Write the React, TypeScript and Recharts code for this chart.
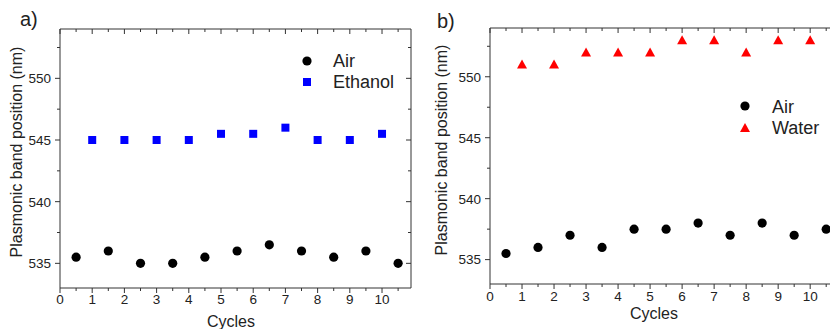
import React from 'react';
import { ScatterChart, Scatter, XAxis, YAxis, Legend } from 'recharts';

// ---------- data ----------
const airCycles = [0.5, 1.5, 2.5, 3.5, 4.5, 5.5, 6.5, 7.5, 8.5, 9.5, 10.5];
const liquidCycles = [1, 2, 3, 4, 5, 6, 7, 8, 9, 10];
const airA = [535.5, 536, 535, 535, 535.5, 536, 536.5, 536, 535.5, 536, 535];
const ethanolA = [545, 545, 545, 545, 545.5, 545.5, 546, 545, 545, 545.5];
const airB = [535.5, 536, 537, 536, 537.5, 537.5, 538, 537, 538, 537, 537.5];
const waterB = [551, 551, 552, 552, 552, 553, 553, 552, 553, 553];
const xTicks = [0, 0.5, 1, 1.5, 2, 2.5, 3, 3.5, 4, 4.5, 5, 5.5, 6, 6.5, 7, 7.5, 8, 8.5, 9, 9.5, 10, 10.5];
const yTicks = [535, 537.5, 540, 542.5, 545, 547.5, 550, 552.5];
const xDomain: [number, number] = [0, 10.9];
const yDomain: [number, number] = [533, 554];
const yTitle = 'Plasmonic band position (nm)';
const xTitle = 'Cycles';

const FONT = '"Liberation Sans", Arial, Helvetica, sans-serif';
const AX = '#333';
const TXT = '#222';

const toPoints = (xs: number[], ys: number[]) => ys.map((y, i) => ({ x: xs[i], y }));

const isMajorX = (v: number) => Number.isInteger(v);
const isMajorY = (v: number) => v % 5 === 0;

const makeBottomTick = (labelDy: number) => (p: any) => {
  const v = p.payload.value;
  const major = isMajorX(v);
  return (
    <g>
      <line x1={p.x} x2={p.x} y1={p.y} y2={p.y + (major ? 5 : 3)} stroke={AX} strokeWidth={1} />
      {major && (
        <text x={p.x} y={p.y + labelDy} textAnchor="middle" fontSize={13.5} fill={TXT} fontFamily={FONT}>
          {v}
        </text>
      )}
    </g>
  );
};

const TopTick = (p: any) => {
  const v = p.payload.value;
  const major = isMajorX(v);
  return <line x1={p.x} x2={p.x} y1={p.y} y2={p.y + (major ? 5 : 3)} stroke={AX} strokeWidth={1} />;
};

const LeftTick = (p: any) => {
  const v = p.payload.value;
  const major = isMajorY(v);
  return (
    <g>
      <line x1={p.x} x2={p.x - (major ? 5 : 3)} y1={p.y} y2={p.y} stroke={AX} strokeWidth={1} />
      {major && (
        <text x={p.x - 9} y={p.y} dy="0.36em" textAnchor="end" fontSize={13.5} fill={TXT} fontFamily={FONT}>
          {v}
        </text>
      )}
    </g>
  );
};

const RightTick = (p: any) => {
  const v = p.payload.value;
  const major = isMajorY(v);
  return <line x1={p.x} x2={p.x - (major ? 5 : 3)} y1={p.y} y2={p.y} stroke={AX} strokeWidth={1} />;
};

const circleShape = (p: any) => <circle cx={p.cx} cy={p.cy} r={4.6} fill="#000" />;
const squareShape = (p: any) => <rect x={p.cx - 4} y={p.cy - 4} width={8} height={8} fill="#0000ff" />;
const triangleShape = (p: any) => (
  <polygon points={`${p.cx},${p.cy - 5} ${p.cx - 5},${p.cy + 4} ${p.cx + 5},${p.cy + 4}`} fill="#ff0000" />
);

const yLabel = (dx: number, dy: number) => (props: any) => {
  const vb = props.viewBox;
  const x = vb.x + dx;
  const y = vb.y + dy;
  return (
    <text x={x} y={y} transform={`rotate(-90 ${x} ${y})`} textAnchor="middle" fontSize={16} fill={TXT} fontFamily={FONT}>
      {yTitle}
    </text>
  );
};

const xLabel = (dx: number, dy: number) => (props: any) => {
  const vb = props.viewBox;
  return (
    <text x={vb.x + dx} y={vb.y + dy} textAnchor="middle" fontSize={16} fill={TXT} fontFamily={FONT}>
      {xTitle}
    </text>
  );
};

const legendA = () => (
  <svg width={130} height={50}>
    <circle cx={12} cy={13} r={4.6} fill="#000" />
    <text x={38} y={19} fontSize={18} fill={TXT} fontFamily={FONT}>Air</text>
    <rect x={8} y={30} width={8} height={8} fill="#0000ff" />
    <text x={38} y={40} fontSize={18} fill={TXT} fontFamily={FONT}>Ethanol</text>
  </svg>
);

const legendB = () => (
  <svg width={110} height={50}>
    <circle cx={12} cy={12} r={4.6} fill="#000" />
    <text x={39} y={19} fontSize={18} fill={TXT} fontFamily={FONT}>Air</text>
    <polygon points="12,29 7,38 17,38" fill="#ff0000" />
    <text x={39} y={40} fontSize={18} fill={TXT} fontFamily={FONT}>Water</text>
  </svg>
);

function Frame(props: {
  width: number;
  margin: any;
  yAxisWidth: number;
  xAxisHeight: number;
  xTickDy: number;
  yLab: [number, number];
  xLab: [number, number];
  legend: () => React.ReactElement;
  legendPos: { left: number; top: number; width: number; height: number };
  children: React.ReactNode;
}) {
  return (
    <ScatterChart width={props.width} height={329} margin={props.margin}>
      <XAxis
        type="number"
        dataKey="x"
        domain={xDomain}
        allowDataOverflow
        ticks={xTicks}
        interval={0}
        tickSize={0}
        tickMargin={0}
        tickLine={false}
        axisLine={{ stroke: AX, strokeWidth: 1 }}
        height={props.xAxisHeight}
        tick={makeBottomTick(props.xTickDy)}
        label={xLabel(props.xLab[0], props.xLab[1])}
      />
      <XAxis
        xAxisId="top"
        orientation="top"
        type="number"
        dataKey="x"
        domain={xDomain}
        allowDataOverflow
        ticks={xTicks}
        interval={0}
        tickSize={0}
        tickMargin={0}
        tickLine={false}
        axisLine={{ stroke: AX, strokeWidth: 1 }}
        height={1}
        tick={TopTick}
      />
      <YAxis
        type="number"
        dataKey="y"
        domain={yDomain}
        allowDataOverflow
        ticks={yTicks}
        interval={0}
        tickSize={0}
        tickMargin={0}
        tickLine={false}
        axisLine={{ stroke: AX, strokeWidth: 1 }}
        width={props.yAxisWidth}
        tick={LeftTick}
        label={yLabel(props.yLab[0], props.yLab[1])}
      />
      <YAxis
        yAxisId="right"
        orientation="right"
        type="number"
        dataKey="y"
        domain={yDomain}
        allowDataOverflow
        ticks={yTicks}
        interval={0}
        tickSize={0}
        tickMargin={0}
        tickLine={false}
        axisLine={{ stroke: AX, strokeWidth: 1 }}
        width={1}
        tick={RightTick}
      />
      {props.children}
      <Legend
        layout="vertical"
        align="center"
        verticalAlign="middle"
        wrapperStyle={{ ...props.legendPos }}
        content={props.legend}
      />
    </ScatterChart>
  );
}

export default function App() {
  return (
    <div style={{ position: 'absolute', left: 0, top: 0, width: 830, height: 329, overflow: 'hidden', background: '#fff', fontFamily: FONT }}>
      <div style={{ position: 'absolute', left: 20, top: 9, fontSize: 20, lineHeight: '20px', color: TXT }}>a)</div>
      <div style={{ position: 'absolute', left: 437, top: 11, fontSize: 20, lineHeight: '20px', color: TXT }}>b)</div>
      <div style={{ position: 'absolute', left: 0, top: 0 }}>
        <Frame
          width={420}
          margin={{ top: 28, right: 8, bottom: 0, left: 0 }}
          yAxisWidth={60}
          xAxisHeight={41}
          xTickDy={15.5}
          yLab={[22, 123]}
          xLab={[171, 39]}
          legend={legendA}
          legendPos={{ left: 295, top: 48, width: 130, height: 50 }}
        >
          <Scatter name="Air" data={toPoints(airCycles, airA)} shape={circleShape} isAnimationActive={false} />
          <Scatter
            name="Ethanol"
            xAxisId="top"
            yAxisId="right"
            data={toPoints(liquidCycles, ethanolA)}
            shape={squareShape}
            isAnimationActive={false}
          />
        </Frame>
      </div>
      <div style={{ position: 'absolute', left: 420, top: 0 }}>
        <Frame
          width={430}
          margin={{ top: 27, right: 10, bottom: 0, left: 0 }}
          yAxisWidth={70}
          xAxisHeight={45}
          xTickDy={16.5}
          yLab={[27, 122]}
          xLab={[164, 34.5]}
          legend={legendB}
          legendPos={{ left: 313, top: 94, width: 110, height: 50 }}
        >
          <Scatter name="Air" data={toPoints(airCycles, airB)} shape={circleShape} isAnimationActive={false} />
          <Scatter
            name="Water"
            xAxisId="top"
            yAxisId="right"
            data={toPoints(liquidCycles, waterB)}
            shape={triangleShape}
            isAnimationActive={false}
          />
        </Frame>
      </div>
    </div>
  );
}
